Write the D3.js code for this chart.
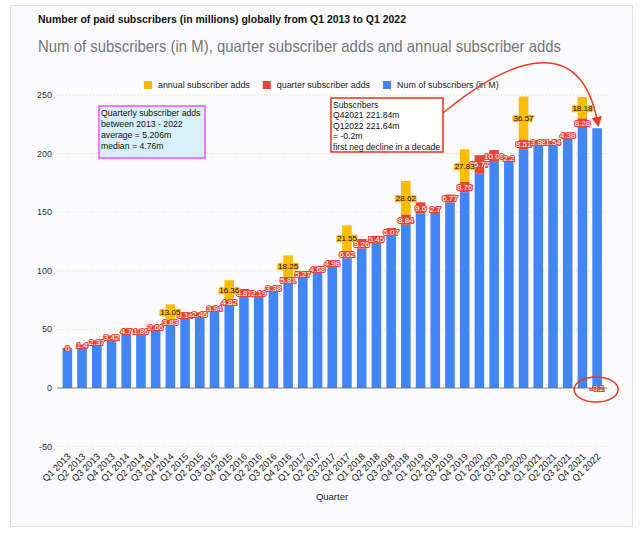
<!DOCTYPE html>
<html>
<head>
<meta charset="utf-8">
<script src="https://cdn.jsdelivr.net/npm/d3@7"></script>
<style>
  body { margin: 0; background: #fff; }
  svg { display: block; font-family: 'Liberation Sans', Arial, sans-serif; }
</style>
</head>
<body>
<div id="chart"></div>
<script>
// data
const quarters = [
  'Q1 2013', 'Q2 2013', 'Q3 2013', 'Q4 2013',
  'Q1 2014', 'Q2 2014', 'Q3 2014', 'Q4 2014',
  'Q1 2015', 'Q2 2015', 'Q3 2015', 'Q4 2015',
  'Q1 2016', 'Q2 2016', 'Q3 2016', 'Q4 2016',
  'Q1 2017', 'Q2 2017', 'Q3 2017', 'Q4 2017',
  'Q1 2018', 'Q2 2018', 'Q3 2018', 'Q4 2018',
  'Q1 2019', 'Q2 2019', 'Q3 2019', 'Q4 2019',
  'Q1 2020', 'Q2 2020', 'Q3 2020', 'Q4 2020',
  'Q1 2021', 'Q2 2021', 'Q3 2021', 'Q4 2021',
  'Q1 2022'
];
const subscribers = [
  34.24, 35.64, 38.01, 41.43, 46.13, 47.99, 50.65, 54.48,
  59.62, 62.08, 66.02, 70.84, 77.71, 79.9, 83.28, 89.09,
  94.36, 99.04, 104.02, 110.64, 118.9, 124.35, 130.42, 139.26,
  148.86, 151.56, 158.33, 167.09, 182.86, 192.95, 195.15, 203.66,
  207.64, 209.18, 213.56, 221.84, 221.64
];
const quarterAdds = [
  0, 1.4, 2.37, 3.42, 4.7, 1.86, 2.66, 3.83,
  5.14, 2.46, 3.94, 4.82, 6.87, 2.19, 3.38, 5.81,
  5.27, 4.68, 4.98, 6.62, 8.26, 5.45, 6.07, 8.84,
  9.6, 2.7, 6.77, 8.76, 15.77, 10.09, 2.2, 8.51,
  3.98, 1.54, 4.38, 8.28, -0.2
];
const annualAdds = [
  null, null, null, null, null, null, null, 13.05,
  null, null, null, 16.36, null, null, null, 18.25,
  null, null, null, 21.55, null, null, null, 28.62,
  null, null, null, 27.83, null, null, null, 36.57,
  null, null, null, 18.18, null
];
const yTicks = [-50, 0, 50, 100, 150, 200, 250];
const legendItems = ['annual subscriber adds', 'quarter subscriber adds', 'Num of subscribers (in M)'];
const noteLeft = ['Quarterly subscriber adds', 'between 2013 - 2022', 'average  = 5.206m', 'median = 4.76m'];
const noteRight = ['Subscribers', 'Q42021 221.84m', 'Q12022 221.64m', '= -0.2m', 'first neg decline in a decade'];

// dimensions
const WIDTH = 640;
const HEIGHT = 539;
const PLOT_LEFT = 60;
const PLOT_RIGHT = 604.5;
const PLOT_TOP = 95;
const PLOT_BOTTOM = 446.6;
const BLUE = '#4285f4';
const RED = '#ea4335';
const YELLOW = '#fbbc04';

const rows = quarters.map((q, i) => ({
  q,
  subs: subscribers[i],
  adds: quarterAdds[i],
  annual: annualAdds[i]
}));

// scales
const scaleX = d3.scaleBand()
  .domain(quarters)
  .range([PLOT_LEFT, PLOT_RIGHT])
  .paddingInner(0.35)
  .paddingOuter(0.175);
const scaleY = d3.scaleLinear().domain([-50, 250]).range([PLOT_BOTTOM, PLOT_TOP]);

const $svg = d3.select('#chart').append('svg')
  .attr('width', WIDTH)
  .attr('height', HEIGHT);

$svg.append('defs').append('marker')
  .attr('id', 'arrow')
  .attr('viewBox', '0 0 10 10')
  .attr('refX', 8)
  .attr('refY', 5)
  .attr('markerWidth', 7)
  .attr('markerHeight', 7)
  .attr('orient', 'auto')
  .append('path')
  .attr('d', 'M0,0 L10,5 L0,10 z')
  .attr('fill', '#ee3a1d');

// frame
$svg.append('rect')
  .attr('x', 10.5).attr('y', 5.5)
  .attr('width', 622).attr('height', 521)
  .attr('fill', '#fbfbfe')
  .attr('stroke', '#dedede');

// titles
$svg.append('text')
  .attr('x', 38).attr('y', 23)
  .attr('font-size', 11).attr('font-weight', 'bold').attr('fill', '#111')
  .attr('textLength', 368).attr('lengthAdjust', 'spacingAndGlyphs')
  .text('Number of paid subscribers (in millions) globally from Q1 2013 to Q1 2022');
$svg.append('text')
  .attr('x', 38).attr('y', 52)
  .attr('font-size', 16.5).attr('fill', '#757575')
  .attr('textLength', 523).attr('lengthAdjust', 'spacingAndGlyphs')
  .text('Num of subscribers (in M), quarter subscriber adds and annual subscriber adds');

// legend
const $legend = $svg.append('g').attr('transform', 'translate(144, 85)');
let lx = 0;
[YELLOW, RED, BLUE].forEach((c, i) => {
  $legend.append('rect')
    .attr('x', lx).attr('y', -4).attr('width', 8).attr('height', 8).attr('fill', c);
  const t = $legend.append('text')
    .attr('x', lx + 14).attr('y', 3)
    .attr('font-size', 8.9).attr('fill', '#222')
    .text(legendItems[i]);
  lx += 14 + t.node().getComputedTextLength() + 13;
});

// gridlines + y labels
const $grid = $svg.append('g');
$grid.selectAll('line')
  .data(yTicks.filter(d => d !== 0))
  .join('line')
  .attr('x1', 57).attr('x2', 607)
  .attr('y1', d => scaleY(d)).attr('y2', d => scaleY(d))
  .attr('stroke', '#e8e2a0')
  .attr('stroke-dasharray', '1,2');
$grid.selectAll('text')
  .data(yTicks)
  .join('text')
  .attr('x', 52).attr('y', d => scaleY(d) + 3)
  .attr('text-anchor', 'end')
  .attr('font-size', 9).attr('fill', '#333')
  .text(d => d);

// bars
const $vis = $svg.append('g');
const bw = scaleX.bandwidth();
$vis.selectAll('.bar-subs')
  .data(rows)
  .join('rect')
  .attr('class', 'bar-subs')
  .attr('x', d => scaleX(d.q)).attr('width', bw)
  .attr('y', d => scaleY(d.subs))
  .attr('height', d => scaleY(0) - scaleY(d.subs))
  .attr('fill', BLUE);

const addTop = d => (d.adds >= 0 ? d.subs + d.adds : 0);
const addBottom = d => (d.adds >= 0 ? d.subs : d.adds);
$vis.selectAll('.bar-adds')
  .data(rows)
  .join('rect')
  .attr('class', 'bar-adds')
  .attr('x', d => scaleX(d.q)).attr('width', bw)
  .attr('y', d => scaleY(addTop(d)))
  .attr('height', d => scaleY(addBottom(d)) - scaleY(addTop(d)))
  .attr('fill', RED);

const annualRows = rows.filter(d => d.annual != null);
$vis.selectAll('.bar-annual')
  .data(annualRows)
  .join('rect')
  .attr('class', 'bar-annual')
  .attr('x', d => scaleX(d.q)).attr('width', bw)
  .attr('y', d => scaleY(d.subs + d.adds + d.annual))
  .attr('height', d => scaleY(d.subs + d.adds) - scaleY(d.subs + d.adds + d.annual))
  .attr('fill', YELLOW);

// zero line
$svg.append('line')
  .attr('x1', 57).attr('x2', 607)
  .attr('y1', scaleY(0)).attr('y2', scaleY(0))
  .attr('stroke', '#666').attr('stroke-width', 0.8);

// value labels
$vis.selectAll('.lbl-adds')
  .data(rows)
  .join('text')
  .attr('class', 'lbl-adds')
  .attr('x', d => scaleX(d.q) + bw / 2)
  .attr('y', d => scaleY((addTop(d) + addBottom(d)) / 2) + 3)
  .attr('text-anchor', 'middle')
  .attr('font-size', 8)
  .attr('fill', '#fff')
  .attr('stroke', RED).attr('stroke-width', 2.2)
  .attr('paint-order', 'stroke')
  .text(d => d.adds);

$vis.selectAll('.lbl-annual')
  .data(annualRows)
  .join('text')
  .attr('class', 'lbl-annual')
  .attr('x', d => scaleX(d.q) + bw / 2)
  .attr('y', d => scaleY(d.subs + d.adds + d.annual / 2) + 3)
  .attr('text-anchor', 'middle')
  .attr('font-size', 8)
  .attr('fill', '#111')
  .attr('stroke', YELLOW).attr('stroke-width', 2.5)
  .attr('paint-order', 'stroke')
  .text(d => d.annual);

// x axis labels
$svg.append('g').selectAll('text')
  .data(quarters)
  .join('text')
  .attr('transform', d => `translate(${scaleX(d) + bw / 2 + 4}, 457) rotate(-45)`)
  .attr('text-anchor', 'end')
  .attr('font-size', 9.3).attr('fill', '#222')
  .text(d => d);

$svg.append('text')
  .attr('x', 332).attr('y', 500)
  .attr('text-anchor', 'middle')
  .attr('font-size', 9.5).attr('fill', '#222')
  .text('Quarter');

// annotation boxes
$svg.append('rect')
  .attr('x', 99).attr('y', 106).attr('width', 106).attr('height', 52)
  .attr('fill', '#d8f0fb').attr('stroke', '#ff4cff').attr('stroke-width', 1.5);
$svg.append('g').selectAll('text')
  .data(noteLeft)
  .join('text')
  .attr('x', 101).attr('y', (d, i) => 115.5 + i * 11)
  .attr('font-size', 8.7).attr('fill', '#111')
  .text(d => d);

$svg.append('rect')
  .attr('x', 331).attr('y', 98).attr('width', 112).attr('height', 54)
  .attr('fill', '#fff').attr('stroke', '#e8321f').attr('stroke-width', 1.5);
$svg.append('g').selectAll('text')
  .data(noteRight)
  .join('text')
  .attr('x', 333).attr('y', (d, i) => 107.5 + i * 10.5)
  .attr('font-size', 8.6).attr('fill', '#111')
  .text(d => d);

// arrow from note to last bar
const last = quarters[quarters.length - 1];
const tipX = scaleX(last) + bw / 2 + 1;
const tipY = scaleY(subscribers[subscribers.length - 1]) - 3;
$svg.append('path')
  .attr('d', `M443,113 C495,70 580,20 ${tipX},${tipY}`)
  .attr('fill', 'none')
  .attr('stroke', '#ee3a1d').attr('stroke-width', 1.5)
  .attr('marker-end', 'url(#arrow)');

// circle around the negative value
$svg.append('ellipse')
  .attr('cx', scaleX(last) + bw / 2 - 1)
  .attr('cy', scaleY(0) + 1.5)
  .attr('rx', 22).attr('ry', 12.5)
  .attr('fill', 'none')
  .attr('stroke', '#ee3a1d').attr('stroke-width', 1.5);
</script>
</body>
</html>
